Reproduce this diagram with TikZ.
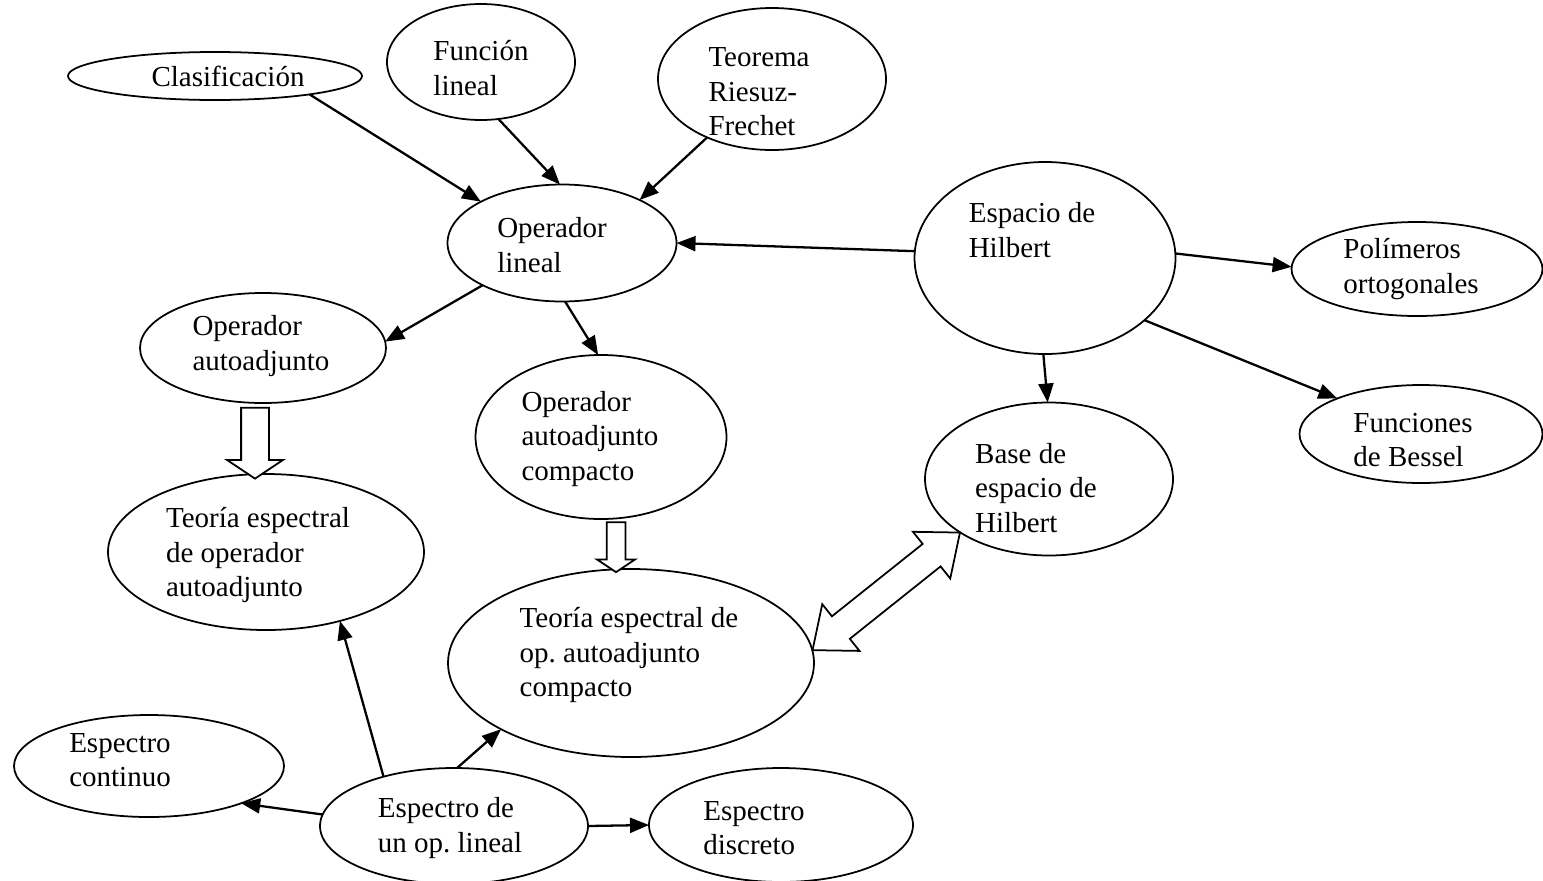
\documentclass[tikz,border=0pt]{standalone}
\usepackage{fontspec}
\setmainfont{Liberation Serif}
\usetikzlibrary{arrows.meta,positioning,shapes.geometric,shapes.arrows,calc}

\begin{document}
\begin{tikzpicture}[
  bub/.style={ellipse, draw, line width=1pt, fill=white, inner sep=0pt, outer sep=0pt},
  txt/.style={font=\fontsize{16.5}{19.6}\selectfont\frenchspacing, align=left, inner sep=0pt},
  farr/.style={-{Triangle[length=0.38cm, width=0.3cm]}, line width=1.3pt},
  harr/.style={single arrow, draw, line width=1pt, fill=white, inner xsep=0pt,
               single arrow tip angle=112.6},
  darr/.style={double arrow, draw, line width=1pt, fill=white, inner xsep=0pt,
               inner ysep=0.27cm, double arrow head extend=0.31cm,
               double arrow tip angle=79}
]
\useasboundingbox (0,0) rectangle (30.86,-17.60);

% Top row
\node[bub, minimum width=5.88cm, minimum height=0.96cm,
      label={[txt, xshift=0.26cm]center:Clasificación}]                          (cla) at (4.30,-1.52) {};
\node[bub, minimum width=3.76cm, minimum height=2.32cm,
      label={[txt, yshift=-0.12cm]center:{Función\\lineal}}]                    (fun) at (9.62,-1.24) {};
\node[bub, minimum width=4.56cm, minimum height=2.84cm,
      label={[txt, xshift=-0.26cm, yshift=-0.26cm]center:{Teorema\\Riesuz-\\Frechet}}] (teo) at (15.44,-1.58) {};

% Operators
\node[bub, minimum width=4.58cm, minimum height=2.34cm,
      label={[txt, xshift=-0.2cm, yshift=-0.04cm]center:{Operador\\lineal}}]     (opl) at (11.24,-4.86) {};
\node[bub, minimum width=4.92cm, minimum height=2.20cm,
      label={[txt, xshift=-0.04cm, yshift=0.04cm]center:{Operador\\autoadjunto}}] (opa) at (5.26,-6.96) {};
\node[bub, minimum width=5.02cm, minimum height=3.28cm,
      label={[txt, xshift=-0.22cm, yshift=-0.04cm]center:{Operador\\autoadjunto\\compacto}}] (opc) at (12.02,-8.74) {};

% Hilbert side
\node[bub, minimum width=5.22cm, minimum height=3.84cm,
      label={[txt, xshift=-0.26cm, yshift=0.56cm]center:{Espacio de\\Hilbert}}]  (hil) at (20.90,-5.16) {};
\node[bub, minimum width=5.02cm, minimum height=1.88cm,
      label={[txt, xshift=-0.12cm]center:{Polímeros\\ortogonales}}]            (pol) at (28.34,-5.38) {};
\node[bub, minimum width=4.86cm, minimum height=1.96cm,
      label={[txt, xshift=-0.16cm, yshift=-0.12cm]center:{Funciones\\de Bessel}}] (bes) at (28.42,-8.68) {};
\node[bub, minimum width=4.96cm, minimum height=3.06cm,
      label={[txt, xshift=-0.26cm, yshift=-0.18cm]center:{Base de\\espacio de\\Hilbert}}] (bas) at (20.98,-9.58) {};

% Spectral theory
\node[bub, minimum width=6.32cm, minimum height=3.12cm,
      label={[txt, xshift=-0.16cm, yshift=-0.06cm]center:{Teoría espectral\\de operador\\autoadjunto}}] (tea) at (5.32,-11.04) {};
\node[bub, minimum width=7.32cm, minimum height=3.76cm,
      label={[txt, xshift=-0.04cm, yshift=0.16cm]center:{Teoría espectral de\\op. autoadjunto\\compacto}}] (tec) at (12.62,-13.26) {};

% Spectra
\node[bub, minimum width=5.40cm, minimum height=2.04cm,
      label={[txt, xshift=-0.58cm, yshift=0.12cm]center:{Espectro\\continuo}}]    (eco) at (2.98,-15.32) {};
\node[bub, minimum width=5.36cm, minimum height=2.32cm,
      label={[txt, xshift=-0.08cm, yshift=-0.04cm]center:{Espectro de\\un op. lineal}}] (eop) at (9.08,-16.52) {};
\node[bub, minimum width=5.28cm, minimum height=2.28cm,
      label={[txt, xshift=-0.54cm, yshift=-0.06cm]center:{Espectro\\discreto}}]   (edi) at (15.62,-16.50) {};

% Arrows
\draw[farr] (cla.-11)  -- (opl.153);
\draw[farr] (fun.-73)  -- (opl.92);
\draw[farr] (teo.-138) -- (opl.29);
\draw[farr] (hil.177)  -- (opl.east);
\draw[farr] (hil.2)    -- (pol.179);
\draw[farr] (hil.-91)  -- (bas.91);
\draw[farr] (hil.-32)  -- (bes.157);
\draw[farr] (opl.-152) -- (opa.3);
\draw[farr] (opl.-87)  -- (opc.92);
\draw[farr] (eop.145)  -- (tea.-43);
\draw[farr] (eop.87)   -- (tec.-153);
\draw[farr] (eop.175)  -- (eco.-22);
\draw[farr] (eop.east) -- (edi.west);

% Block arrows
\node[harr, rotate=-90, minimum height=1.42cm, inner ysep=0.26cm, single arrow head extend=0.28cm]
      (ha1) at ($(opa.south)!0.5!(tea.north)+(-0.19,0)$) {};
\node[harr, rotate=-90, minimum height=1.0cm, inner ysep=0.17cm, single arrow head extend=0.19cm]
      (ha2) at ($(opc.south)!0.5!(tec.north)$) {};
\path let \p1=(tec.4), \p2=(bas.211), \n1={atan2(\y2-\y1,\x2-\x1)}, \n2={veclen(\x2-\x1,\y2-\y1)} in
  node[darr, minimum height=\n2, rotate=\n1] (hb) at ($(\p1)!0.5!(\p2)$) {};
\end{tikzpicture}
\end{document}
